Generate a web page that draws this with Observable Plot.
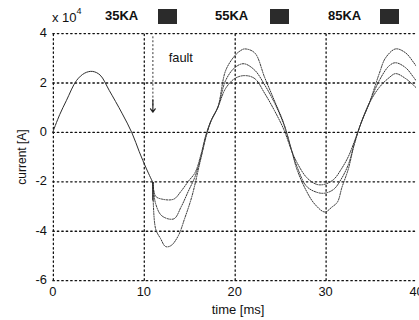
<!DOCTYPE html>
<html>
<head>
<meta charset="utf-8">
<script src="https://cdn.jsdelivr.net/npm/d3@7"></script>
<script src="https://cdn.jsdelivr.net/npm/@observablehq/plot@0.6"></script>
<style>
  html, body { margin: 0; padding: 0; background: #fff; overflow: hidden; }
  #wrap { position: relative; width: 419px; height: 320px; overflow: hidden; font-family: "Liberation Sans", Arial, sans-serif; color: #111; }
  #chart { position: absolute; left: 0; top: 0; }
  .lab { position: absolute; white-space: nowrap; font-size: 13px; line-height: 1; }
  .leg { font-weight: bold; font-size: 13px; }
  .sq { position: absolute; width: 19px; height: 15px; background: #2b2b2b; }
</style>
</head>
<body>
<div id="wrap">
  <div id="chart"></div>
</div>
<script>
// ---- data (current in units of 1e4 A, time in ms) ----
const seriesNames = ["35KA", "55KA", "85KA"];
const xTicks = [0, 10, 20, 30, 40];
const yTicks = [-6, -4, -2, 0, 2, 4];
const faultT = 11.0;

// pre-fault current
const preT = [0, 0.75, 1.5, 2.6, 3.5, 4.35, 5.2, 6.2, 7.6, 8.7, 9.5, 10.3, 11.0];
const preV = [0, 0.7, 1.28, 2.08, 2.38, 2.45, 2.3, 1.68, 0.76, -0.04, -0.8, -1.5, -2.05];

// post-fault, 35KA
const tA = [11.0, 11.3, 12.0, 13.3, 14.1, 14.9, 15.65, 16.3, 16.85, 17.4, 18.15, 19.0, 20.0, 21.1, 22.2, 23.3, 24.35, 25.4, 26.3, 26.85, 27.9, 29.0, 29.9, 30.9, 31.7, 32.5, 33.15, 33.9, 34.8, 35.9, 37.0, 37.7, 38.8, 39.7, 40.2];
const vA = [-2.05, -2.6, -2.72, -2.72, -2.4, -2.0, -1.64, -0.9, -0.1, 0.45, 1.0, 1.76, 2.16, 2.28, 2.16, 1.56, 0.88, 0.1, -0.8, -1.24, -1.84, -2.12, -2.12, -1.92, -1.52, -1.0, -0.4, 0.36, 1.16, 1.8, 2.2, 2.36, 2.16, 1.88, 1.7];

// post-fault, 55KA
const tB = [11.0, 11.3, 12.0, 13.3, 14.1, 14.9, 15.65, 16.3, 16.85, 17.4, 18.15, 19.0, 20.0, 21.0, 22.2, 23.3, 24.35, 25.4, 26.3, 26.85, 27.9, 29.0, 29.9, 30.9, 31.7, 32.5, 33.15, 33.9, 34.8, 35.9, 37.0, 37.7, 38.8, 39.7, 40.2];
const vB = [-2.05, -2.9, -3.4, -3.52, -3.04, -2.4, -1.8, -1.0, -0.15, 0.45, 1.0, 2.08, 2.6, 2.76, 2.5, 1.9, 1.2, 0.3, -0.8, -1.4, -2.2, -2.44, -2.48, -2.32, -1.92, -1.32, -0.5, 0.36, 1.16, 2.08, 2.68, 2.8, 2.6, 2.2, 1.95];

// post-fault, 85KA
const tC = [11.0, 11.3, 11.85, 12.4, 13.0, 13.8, 14.5, 15.3, 16.2, 16.85, 17.4, 18.15, 19.0, 20.0, 20.6, 21.1, 22.2, 23.3, 24.35, 25.4, 26.3, 26.85, 27.9, 28.8, 29.9, 30.7, 31.3, 31.8, 32.5, 33.15, 33.9, 34.8, 35.9, 36.6, 37.7, 38.8, 39.7, 40.2];
const vC = [-2.05, -3.92, -4.32, -4.64, -4.6, -4.2, -3.5, -2.6, -1.2, -0.2, 0.45, 1.0, 2.48, 3.08, 3.28, 3.36, 3.2, 2.2, 1.28, 0.35, -0.8, -1.52, -2.4, -2.92, -3.24, -3.04, -2.84, -2.24, -1.5, -0.5, 0.36, 1.16, 2.36, 3.0, 3.36, 3.2, 2.8, 2.55];

const pre = preT.map((t, i) => ({t, v: preV[i]}));
const post = [
  ...tA.map((t, i) => ({t, v: vA[i], s: seriesNames[0]})),
  ...tB.map((t, i) => ({t, v: vB[i], s: seriesNames[1]})),
  ...tC.map((t, i) => ({t, v: vC[i], s: seriesNames[2]}))
];

const xMin = xTicks[0], xMax = xTicks[xTicks.length - 1];
const yMin = yTicks[0], yMax = yTicks[yTicks.length - 1];
const gridV = xTicks.slice(0, -1).flatMap(x => [{g: "x" + x, gx: x, gy: yMin}, {g: "x" + x, gx: x, gy: yMax}]);
const gridH = yTicks.flatMap(y => [{g: "y" + y, gx: xMin, gy: y}, {g: "y" + y, gx: xMax, gy: y}]);

const fmt = d => String(d);
const gridStyle = {x: "gx", y: "gy", z: "g", stroke: "#111", strokeWidth: 1.3, strokeDasharray: "1.5,3"};
const plot = Plot.plot({
  width: 424,
  height: 320,
  marginTop: 33,
  marginBottom: 37,
  marginLeft: 53,
  marginRight: 3,
  style: {fontFamily: "Liberation Sans, Arial, sans-serif", fontSize: "13px", color: "#111", background: "transparent"},
  x: {domain: [xMin, xMax]},
  y: {domain: [yMin, yMax]},
  marks: [
    Plot.line(gridV, {...gridStyle, dx: 0.5}),
    Plot.line(gridH, {...gridStyle, dy: 0.5}),
    Plot.line(pre, {x: "t", y: "v", curve: "catmull-rom", stroke: "#2a2a2a", strokeWidth: 1}),
    Plot.line(post, {x: "t", y: "v", z: "s", curve: "catmull-rom", stroke: "#333", strokeWidth: 1, strokeDasharray: "1.3,1.3", clip: true}),
    Plot.ruleX([faultT], {y1: -2.05, y2: -2.8, stroke: "#222", strokeWidth: 1.3}),
    Plot.ruleX([faultT], {y1: 3.85, y2: 1.0, stroke: "#333", strokeWidth: 1, strokeDasharray: "2,2"}),
    Plot.arrow([{x: faultT, a: 1.3, b: 0.8}], {x1: "x", x2: "x", y1: "a", y2: "b", stroke: "#222", strokeWidth: 1.2, headLength: 9, headAngle: 70, bend: 0}),
    Plot.text(["fault"], {x: faultT, y: 3.0, text: d => d, dx: 16, textAnchor: "start", fontSize: 13, fill: "#111"}),
    Plot.axisX({ticks: xTicks, tickSize: 0, tickPadding: 7, label: null, tickFormat: fmt}),
    Plot.axisY({ticks: yTicks, tickSize: 0, tickPadding: 6, label: null, tickFormat: fmt})
  ]
});
document.getElementById("chart").appendChild(plot);

// title / legend / axis titles as HTML text
const wrap = document.getElementById("wrap");
function addLab(text, left, top, cls, extra) {
  const d = document.createElement("div");
  d.className = "lab" + (cls ? " " + cls : "");
  d.innerHTML = text;
  d.style.left = left + "px";
  d.style.top = top + "px";
  if (extra) Object.assign(d.style, extra);
  wrap.appendChild(d);
  return d;
}
addLab('x 10<sup style="font-size:9px;position:relative;top:-3px">4</sup>', 52, 10, "", {fontSize: "13px"});
const legX = [105, 215, 328];
const sqX = [158, 270, 380];
seriesNames.forEach((n, i) => {
  addLab(n, legX[i], 9, "leg");
  const s = document.createElement("div");
  s.className = "sq";
  s.style.left = sqX[i] + "px";
  s.style.top = "9px";
  wrap.appendChild(s);
});
addLab("time [ms]", 238, 303, "", {transform: "translateX(-50%)", fontSize: "13px"});
addLab("current [A]", 22, 157, "", {transform: "translate(-50%,-50%) rotate(-90deg)", fontSize: "12px"});
</script>
</body>
</html>
